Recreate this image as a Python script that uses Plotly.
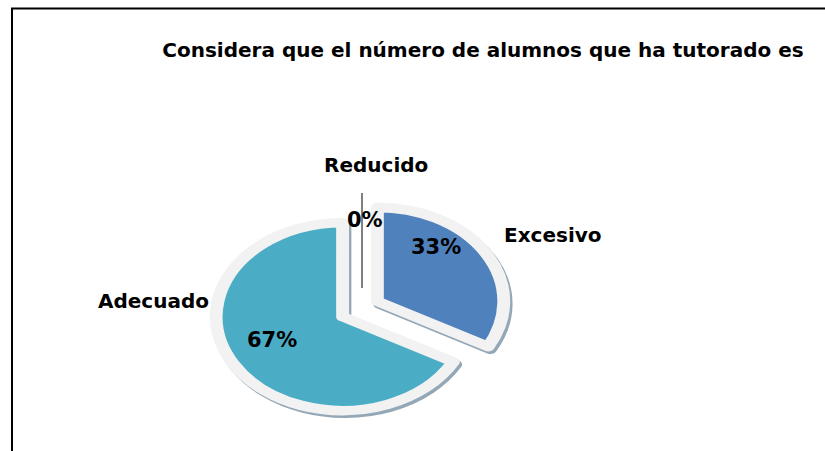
import plotly.graph_objects as go

# ---- data ----
categories = ["Excesivo", "Adecuado", "Reducido"]
values = [33, 67, 0]
colors = ["#4F81BD", "#4BACC6", "#C0504D"]
title_text = "Considera que el número de alumnos que ha tutorado es"

total = sum(values)
pct_text = [f"{round(v / total * 100)}%" for v in values]

W, H = 825, 451
FONT = "'DejaVu Sans', Arial, sans-serif"

# pie placement (pixels) and perspective squash
cx, cy, r = 360, 309, 108
pulls = [0.16, 0.16, 0.0]
SX, SY = 1.17, 0.87
R = r * (1 + max(pulls))
line_w = [11 if v > 0 else 0 for v in values]


def dom(cx, cy, R):
    return dict(x=[(cx - R) / W, (cx + R) / W],
                y=[(H - cy - R) / H, (H - cy + R) / H])


fig = go.Figure()

# shadow
fig.add_trace(go.Pie(
    labels=categories, values=values, sort=False, direction="clockwise",
    rotation=0, pull=pulls, textinfo="none", hoverinfo="skip",
    marker=dict(colors=["#93A7B6"] * 3, line=dict(color="#93A7B6", width=line_w)),
    domain=dom(cx + 2, cy + 3, R), showlegend=False,
))
# main pie
fig.add_trace(go.Pie(
    labels=categories, values=values, sort=False, direction="clockwise",
    rotation=0, pull=pulls, textinfo="none",
    marker=dict(colors=colors, line=dict(color="#F2F2F2", width=line_w)),
    domain=dom(cx, cy, R), showlegend=False,
))

# label positions (pixels)
name_pos = {"Excesivo": (553, 235), "Adecuado": (153, 301), "Reducido": (376, 165)}
pct_pos = {"Excesivo": (436, 247), "Adecuado": (272, 340), "Reducido": (365, 220)}

ann = []
for c, p in zip(categories, pct_text):
    x, y = name_pos[c]
    ann.append(dict(text=f"<b>{c}</b>", x=x / W, y=1 - y / H, xref="paper", yref="paper",
                    showarrow=False, font=dict(family=FONT, size=20, color="black"),
                    xanchor="center", yanchor="middle"))
    x, y = pct_pos[c]
    ann.append(dict(text=f"<b>{p}</b>", x=x / W, y=1 - y / H, xref="paper", yref="paper",
                    showarrow=False, font=dict(family=FONT, size=21, color="black"),
                    xanchor="center", yanchor="middle"))

shapes = [
    # chart frame
    dict(type="line", xref="paper", yref="paper", x0=12 / W, x1=12 / W, y0=0, y1=1 - 8.5 / H,
         line=dict(color="black", width=2)),
    dict(type="line", xref="paper", yref="paper", x0=11 / W, x1=1, y0=1 - 8.5 / H, y1=1 - 8.5 / H,
         line=dict(color="black", width=2)),
    # leader line for zero slice
    dict(type="line", xref="paper", yref="paper", x0=362 / W, x1=362 / W,
         y0=1 - 288 / H, y1=1 - 193 / H, line=dict(color="black", width=1)),
]

fig.update_layout(
    width=W, height=H,
    margin=dict(l=0, r=0, t=0, b=0),
    paper_bgcolor="white", plot_bgcolor="white",
    title=dict(text=f"<b>{title_text}</b>", x=483 / W, y=1 - 50 / H,
               xanchor="center", yanchor="middle",
               font=dict(family=FONT, size=20, color="black")),
    annotations=ann, shapes=shapes, showlegend=False,
)

tr = "translate(%g,%g) scale(%g,%g) translate(%g,%g)" % (cx, cy, SX, SY, -cx, -cy)
post = (
    "document.body.style.margin='0';"
    "document.body.style.overflow='hidden';"
    "(function(){var gd=document.getElementById('{plot_id}');"
    "function sq(){gd.querySelectorAll('.pielayer g.trace').forEach(function(g){"
    "g.setAttribute('transform','" + tr + "');});}"
    "sq();setTimeout(sq,30);if(gd.on){gd.on('plotly_afterplot',sq);}})();"
)

fig.write_html("out.html", post_script=post, config={"displayModeBar": False})
